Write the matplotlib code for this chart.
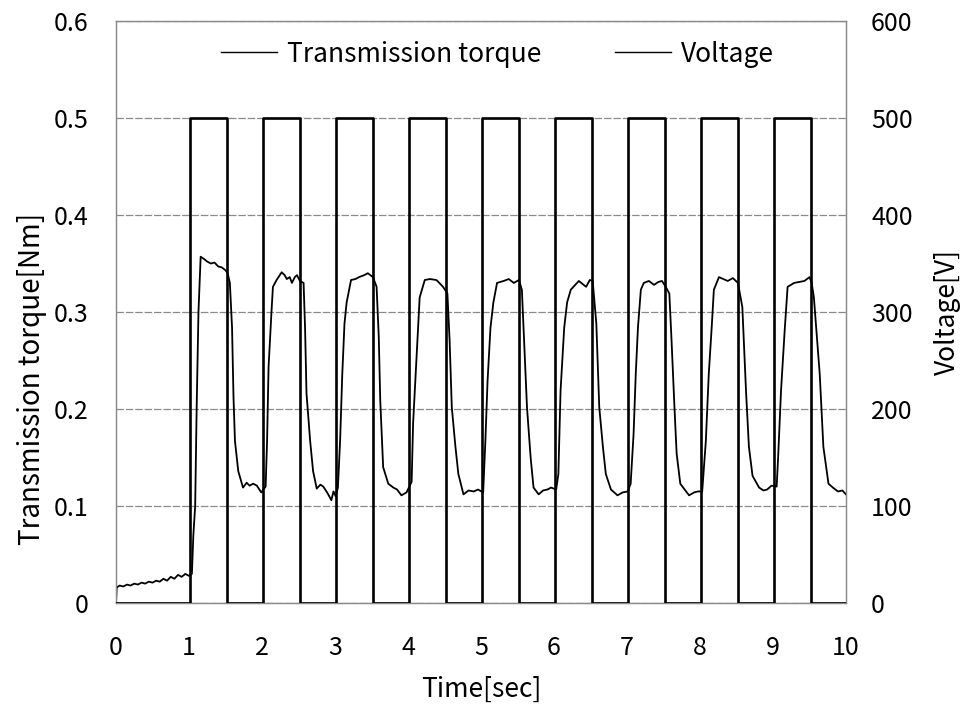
import matplotlib
matplotlib.use("Agg")
import matplotlib.pyplot as plt
from matplotlib.lines import Line2D

plt.rcParams['font.family'] = ['Noto Sans CJK JP', 'DejaVu Sans']

# Torque data (time [s], torque [Nm])
torque_time = [
    0.0, 0.01, 0.05, 0.1, 0.15, 0.2, 0.25, 0.3, 0.35, 0.4, 0.45, 0.5, 0.55, 0.6, 0.65, 0.7,
    0.75, 0.8, 0.85, 0.9, 0.95, 1.0, 1.04, 1.06, 1.085, 1.105, 1.13, 1.16, 1.2, 1.25, 1.3,
    1.35, 1.4, 1.45, 1.5, 1.53, 1.56, 1.59, 1.61, 1.63, 1.675, 1.74, 1.79, 1.83, 1.88, 1.93,
    1.99, 2.05, 2.07, 2.09, 2.13, 2.15, 2.2, 2.27, 2.31, 2.34, 2.38, 2.41, 2.45, 2.48, 2.52,
    2.57, 2.59, 2.61, 2.66, 2.70, 2.75, 2.8, 2.84, 2.9, 2.95, 2.98, 3.01, 3.04, 3.07, 3.10,
    3.13, 3.16, 3.22, 3.28, 3.33, 3.4, 3.45, 3.52, 3.57, 3.60, 3.62, 3.66, 3.73, 3.8, 3.85,
    3.91, 3.98, 4.05, 4.07, 4.11, 4.14, 4.16, 4.23, 4.3, 4.39, 4.48, 4.54, 4.57, 4.60, 4.65,
    4.69, 4.76, 4.83, 4.90, 4.96, 5.03, 5.06, 5.09, 5.13, 5.17, 5.22, 5.31, 5.38, 5.45, 5.52,
    5.56, 5.59, 5.63, 5.68, 5.72, 5.79, 5.85, 5.91, 5.96, 6.03, 6.06, 6.09, 6.14, 6.18, 6.23,
    6.34, 6.44, 6.49, 6.53, 6.58, 6.62, 6.67, 6.71, 6.78, 6.87, 6.94, 7.01, 7.05, 7.09, 7.12,
    7.15, 7.19, 7.23, 7.3, 7.37, 7.43, 7.48, 7.53, 7.58, 7.61, 7.65, 7.68, 7.73, 7.79, 7.85,
    7.92, 7.97, 8.03, 8.08, 8.12, 8.16, 8.19, 8.26, 8.32, 8.38, 8.45, 8.52, 8.58, 8.63, 8.67,
    8.72, 8.81, 8.87, 8.92, 8.98, 9.05, 9.07, 9.11, 9.16, 9.20, 9.29, 9.36, 9.43, 9.5, 9.53,
    9.56, 9.64, 9.69, 9.76, 9.82, 9.89, 9.95, 10.0,
]
torque_value = [
    0.0, 0.016, 0.018, 0.017, 0.019, 0.018, 0.02, 0.019, 0.021, 0.02, 0.022, 0.021, 0.023, 0.022, 0.025, 0.023,
    0.027, 0.025, 0.029, 0.027, 0.03, 0.028, 0.03, 0.07, 0.1, 0.2, 0.3, 0.357, 0.355, 0.352, 0.35,
    0.351, 0.347, 0.346, 0.343, 0.34, 0.33, 0.284, 0.212, 0.167, 0.136, 0.119, 0.124, 0.121, 0.123, 0.121,
    0.114, 0.12, 0.167, 0.243, 0.3, 0.326, 0.333, 0.341, 0.338, 0.334, 0.336, 0.33, 0.336, 0.338, 0.332,
    0.33, 0.284, 0.216, 0.167, 0.136, 0.118, 0.122, 0.12, 0.113, 0.106, 0.115, 0.11, 0.119, 0.167, 0.236,
    0.288, 0.31, 0.333, 0.334, 0.336, 0.338, 0.34, 0.336, 0.326, 0.274, 0.209, 0.14, 0.123, 0.119, 0.117,
    0.111, 0.114, 0.125, 0.185, 0.243, 0.288, 0.315, 0.333, 0.334, 0.333, 0.326, 0.319, 0.271, 0.202, 0.161,
    0.133, 0.112, 0.116, 0.115, 0.117, 0.114, 0.167, 0.229, 0.284, 0.31, 0.33, 0.332, 0.334, 0.33, 0.333,
    0.323, 0.271, 0.202, 0.15, 0.119, 0.112, 0.116, 0.117, 0.119, 0.117, 0.133, 0.219, 0.284, 0.31, 0.323,
    0.332, 0.326, 0.333, 0.332, 0.288, 0.202, 0.161, 0.133, 0.117, 0.111, 0.114, 0.115, 0.123, 0.174, 0.236,
    0.284, 0.323, 0.33, 0.332, 0.328, 0.331, 0.332, 0.326, 0.319, 0.271, 0.202, 0.154, 0.123, 0.117, 0.111,
    0.114, 0.115, 0.115, 0.167, 0.236, 0.284, 0.323, 0.336, 0.334, 0.332, 0.335, 0.33, 0.305, 0.219, 0.161,
    0.131, 0.119, 0.116, 0.117, 0.121, 0.12, 0.15, 0.219, 0.281, 0.326, 0.33, 0.331, 0.332, 0.336, 0.33,
    0.315, 0.236, 0.161, 0.123, 0.119, 0.115, 0.116, 0.112,
]

# Voltage square wave: switching instants [s] and level held after each [V]
voltage_time = [0.0, 1.02, 1.52, 2.02, 2.52, 3.02, 3.52, 4.02, 4.52, 5.02, 5.52,
                6.02, 6.52, 7.02, 7.52, 8.02, 8.52, 9.02, 9.52, 10.0]
voltage_level = [0, 500, 0, 500, 0, 500, 0, 500, 0, 500, 0,
                 500, 0, 500, 0, 500, 0, 500, 0, 0]

x_ticks = [0, 1, 2, 3, 4, 5, 6, 7, 8, 9, 10]
y1_ticks = [0.0, 0.1, 0.2, 0.3, 0.4, 0.5, 0.6]
y1_labels = ['0', '0.1', '0.2', '0.3', '0.4', '0.5', '0.6']
y2_ticks = [0, 100, 200, 300, 400, 500, 600]

FS_TICK = 18
FS_TEXT = 19
fig = plt.figure(figsize=(9.64, 7.08), dpi=100)
ax = fig.add_axes([0.1203, 0.1483, 0.7573, 0.822])
ax2 = ax.twinx()

ax.plot(torque_time, torque_value, color='black', lw=1.3, zorder=3)
ax2.plot(voltage_time, voltage_level, color='black', lw=1.9, drawstyle='steps-post', zorder=3)

ax.set_xlim(0, 10)
ax.set_ylim(0, 0.6)
ax2.set_ylim(0, 600)
ax.set_xticks(x_ticks)
ax.set_xticklabels([str(v) for v in x_ticks])
ax.set_yticks(y1_ticks)
ax.set_yticklabels(y1_labels)
ax2.set_yticks(y2_ticks)
ax2.set_yticklabels([str(v) for v in y2_ticks])

ax.grid(axis='y', color='#8a8a8a', lw=0.9, ls=(0, (6, 1.5)))
ax.set_axisbelow(True)
for a in (ax, ax2):
    for s in a.spines.values():
        s.set_color('#8a8a8a')
        s.set_linewidth(0.9)
    a.tick_params(length=0, labelsize=FS_TICK)
ax.tick_params(axis='y', pad=20)
ax.tick_params(axis='x', pad=23)
ax2.tick_params(axis='y', pad=18)

ax.set_xlabel('Time[sec]', fontsize=FS_TEXT)
ax.xaxis.set_label_coords(0.5, -0.125)
ax.set_ylabel('Transmission torque[Nm]', fontsize=20)
ax.yaxis.set_label_coords(-0.095, 0.385)
ax2.set_ylabel('Voltage[V]', fontsize=FS_TEXT, rotation=90)
ax2.yaxis.set_label_coords(1.121, 0.5)

handles = [Line2D([], [], color='black', lw=1.0), Line2D([], [], color='black', lw=1.0)]
ax.legend(handles, ['Transmission torque', 'Voltage'], loc='center', bbox_to_anchor=(0.523, 0.943),
          ncol=2, frameon=False, fontsize=FS_TEXT, handlelength=2.1, handletextpad=0.4,
          columnspacing=2.8, borderpad=0, borderaxespad=0)

fig.savefig('out.png', dpi=100)
